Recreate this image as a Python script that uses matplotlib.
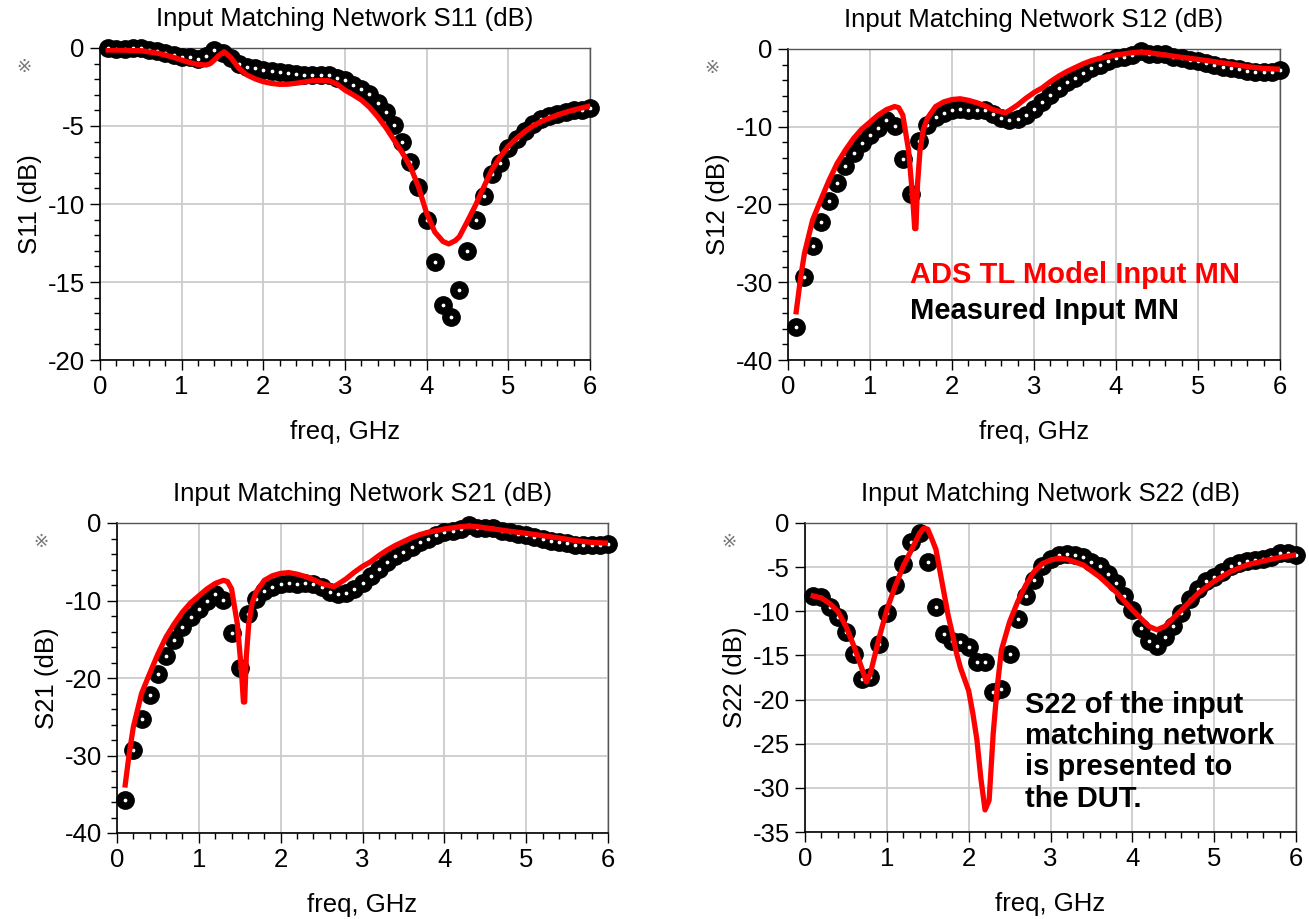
import numpy as np
import matplotlib.pyplot as plt
from matplotlib.ticker import MultipleLocator

plt.rcParams['font.family'] = ['Liberation Sans', 'DejaVu Sans']
plt.rcParams['axes.unicode_minus'] = False

# measured points, 0.1 .. 6.0 GHz in 0.1 GHz steps
freq_meas = [round(0.1 * i, 1) for i in range(1, 61)]

s11_meas = [0.0, -0.09, -0.05, -0.03, -0.03, -0.13, -0.2, -0.34, -0.45, -0.55,
            -0.6, -0.68, -0.52, -0.13, -0.32, -0.66, -1.0, -1.2, -1.3, -1.41,
            -1.5, -1.52, -1.6, -1.65, -1.72, -1.73, -1.73, -1.73, -1.9, -2.05,
            -2.37, -2.63, -2.95, -3.55, -4.08, -4.94, -6.05, -7.29, -8.89, -11.03,
            -13.7, -16.5, -17.26, -15.5, -13.0, -11.0, -9.49, -8.1, -7.35, -6.43,
            -5.85, -5.3, -4.87, -4.57, -4.36, -4.23, -4.08, -3.97, -3.97, -3.82]

s12_meas = [-35.75, -29.3, -25.3, -22.2, -19.5, -17.2, -15.1, -13.4, -12.1, -11.1,
            -10.1, -9.1, -9.9, -14.2, -18.7, -11.8, -9.8, -8.8, -8.2, -7.85,
            -7.77, -7.9, -7.8, -7.9, -8.3, -8.9, -9.1, -9.0, -8.5, -7.7,
            -6.8, -5.9, -5.0, -4.3, -3.7, -3.1, -2.5, -2.0, -1.5, -1.2,
            -1.0, -0.77, -0.3, -0.64, -0.64, -0.7, -1.0, -1.2, -1.4, -1.6,
            -1.85, -2.06, -2.27, -2.5, -2.6, -2.8, -2.9, -2.9, -2.9, -2.75]

# S21 reads the same as S12 (passive, reciprocal network)
s21_meas = list(s12_meas)

s22_meas = [-8.26, -8.4, -9.5, -10.7, -12.4, -14.8, -17.7, -17.4, -13.7, -10.2,
            -7.0, -4.6, -2.2, -1.1, -4.4, -9.5, -12.6, -13.4, -13.5, -14.0,
            -15.7, -15.7, -19.1, -18.8, -14.8, -10.9, -8.3, -6.5, -4.9, -4.1,
            -3.6, -3.5, -3.6, -3.9, -4.4, -4.9, -5.8, -6.8, -8.3, -9.85,
            -11.9, -13.4, -13.9, -12.9, -11.7, -10.15, -8.6, -7.5, -6.6, -6.1,
            -5.5, -4.9, -4.5, -4.3, -4.2, -4.1, -3.8, -3.4, -3.4, -3.6]

# ADS model curves
s11_model_f = [0.1, 0.3, 0.5, 0.7, 0.8, 0.9, 1.0, 1.1, 1.2, 1.3, 1.35, 1.4, 1.45, 1.52,
               1.6, 1.7, 1.8, 1.9, 2.0, 2.1, 2.2, 2.3, 2.4, 2.5, 2.6, 2.7, 2.8, 2.9,
               3.0, 3.1, 3.2, 3.3, 3.4, 3.5, 3.6, 3.7, 3.8, 3.9, 4.0, 4.1, 4.2, 4.27,
               4.35, 4.4, 4.5, 4.6, 4.7, 4.8, 4.9, 5.0, 5.1, 5.2, 5.3, 5.4, 5.5, 5.6,
               5.7, 5.8, 5.9, 6.0]
s11_model = [-0.13, -0.14, -0.17, -0.33, -0.45, -0.6, -0.77, -0.93, -1.06, -1.09, -1.0,
             -0.77, -0.5, -0.24, -0.6, -1.3, -1.73, -1.98, -2.16, -2.27, -2.33, -2.32,
             -2.26, -2.18, -2.1, -2.08, -2.1, -2.3, -2.7, -3.0, -3.33, -3.8, -4.4, -5.1,
             -5.9, -6.7, -7.6, -8.9, -10.6, -11.8, -12.4, -12.56, -12.35, -12.1, -11.1,
             -10.06, -8.9, -7.8, -6.97, -6.3, -5.8, -5.36, -5.0, -4.72, -4.5, -4.3,
             -4.12, -3.97, -3.84, -3.72]

s12_model_f = [0.1, 0.15, 0.2, 0.3, 0.4, 0.5, 0.6, 0.7, 0.8, 0.9, 1.0, 1.1, 1.2, 1.3,
               1.35, 1.4, 1.47, 1.52, 1.545, 1.56, 1.58, 1.61, 1.65, 1.7, 1.8, 1.9,
               2.0, 2.1, 2.2, 2.3, 2.4, 2.5, 2.6, 2.65, 2.7, 2.8, 2.9, 3.0, 3.1, 3.2,
               3.3, 3.4, 3.5, 3.6, 3.7, 3.8, 4.0, 4.2, 4.3, 4.4, 4.6, 4.8, 5.0, 5.2,
               5.4, 5.6, 5.8, 6.0]
s12_model = [-33.8, -29.7, -26.3, -22.0, -19.4, -16.9, -14.7, -13.0, -11.5, -10.3, -9.4,
             -8.5, -7.8, -7.4, -7.55, -8.5, -13.0, -19.0, -23.1, -23.1, -17.3, -13.0,
             -10.4, -8.9, -7.4, -6.8, -6.5, -6.4, -6.6, -6.9, -7.3, -7.8, -8.1, -8.2,
             -7.9, -7.2, -6.35, -5.6, -5.0, -4.2, -3.5, -2.9, -2.4, -1.9, -1.5, -1.2,
             -0.77, -0.47, -0.39, -0.47, -0.77, -1.07, -1.33, -1.63, -1.93, -2.27,
             -2.5, -2.6]

s21_model_f = list(s12_model_f)
s21_model = list(s12_model)

s22_model_f = [0.1, 0.2, 0.3, 0.4, 0.5, 0.6, 0.7, 0.75, 0.8, 0.9, 1.0, 1.1, 1.2, 1.3,
               1.4, 1.45, 1.5, 1.55, 1.6, 1.65, 1.7, 1.75, 1.8, 1.85, 1.9, 2.0, 2.05,
               2.1, 2.15, 2.2, 2.25, 2.3, 2.35, 2.4, 2.5, 2.6, 2.7, 2.8, 2.9, 3.0, 3.1,
               3.2, 3.4, 3.6, 3.8, 4.0, 4.2, 4.3, 4.4, 4.6, 4.8, 5.0, 5.2, 5.4, 5.6,
               5.8, 6.0]
s22_model = [-8.26, -8.5, -9.1, -10.0, -11.7, -14.0, -16.6, -18.0, -17.0, -13.2, -9.85,
             -7.2, -4.9, -3.06, -1.17, -0.6, -0.7, -1.8, -3.0, -5.5, -8.0, -10.5, -12.5,
             -14.7, -16.4, -19.0, -21.5, -24.5, -29.0, -32.5, -31.4, -23.8, -18.5, -14.4,
             -11.2, -8.9, -7.0, -5.5, -4.6, -4.2, -4.0, -4.1, -4.75, -6.1, -7.8, -9.85,
             -11.7, -12.1, -11.7, -9.85, -8.0, -6.6, -5.5, -4.75, -4.3, -3.9, -3.6]

fig = plt.figure(figsize=(13.09, 9.19), dpi=100)

panels = [
    # rect, name, meas, model f, model, ylim, major, minor
    ([100/1309, 559/919, 490/1309, 312/919], 'S11', s11_meas, s11_model_f, s11_model, (-20, 0), 5, 1),
    ([788/1309, 559/919, 492/1309, 311/919], 'S12', s12_meas, s12_model_f, s12_model, (-40, 0), 10, 2),
    ([117/1309, 86/919, 491/1309, 310/919], 'S21', s21_meas, s21_model_f, s21_model, (-40, 0), 10, 2),
    ([805/1309, 87/919, 491/1309, 309/919], 'S22', s22_meas, s22_model_f, s22_model, (-35, 0), 5, None),
]

axes = []
for rect, name, meas, mf, mv, ylim, major, minor in panels:
    ax = fig.add_axes(rect)
    ax.plot(freq_meas, meas, 'o', color='black', markersize=12.5, clip_on=False, zorder=3)
    ax.plot(freq_meas, meas, 'o', color='white', markersize=1.7, clip_on=False, zorder=4)
    ax.plot(mf, mv, color='#ff0000', linewidth=3.8, zorder=5, solid_joinstyle='round')
    ax.set_xlim(0, 6)
    ax.set_ylim(*ylim)
    ax.xaxis.set_major_locator(MultipleLocator(1))
    ax.xaxis.set_minor_locator(MultipleLocator(0.2))
    ax.yaxis.set_major_locator(MultipleLocator(major))
    if minor:
        ax.yaxis.set_minor_locator(MultipleLocator(minor))
    ax.grid(True, which='major', color='#cccccc', linewidth=1.3)
    ax.set_axisbelow(True)
    ax.tick_params(which='major', direction='out', length=7, width=1, labelsize=18.5, pad=4)
    ax.tick_params(which='minor', direction='out', length=4.5, width=1)
    for s in ['left', 'bottom']:
        ax.spines[s].set_color('black')
        ax.spines[s].set_linewidth(1.2)
    for s in ['top', 'right']:
        ax.spines[s].set_color('#555555')
        ax.spines[s].set_linewidth(1.0)
    ax.set_title('Input Matching Network %s (dB)' % name, fontsize=18.5, pad=16)
    ax.set_xlabel('freq, GHz', fontsize=18.5, labelpad=15)
    ax.set_ylabel('%s (dB)' % name, fontsize=18.5, labelpad=4)
    ax.text(-0.155, 0.94, '\u203b', transform=ax.transAxes, fontsize=13,
            color='#777777', ha='center', va='center', family=['DejaVu Sans'])
    axes.append(ax)

axes[1].text(1.49, -29.1, 'ADS TL Model Input MN', color='#ff0000', fontsize=21,
             fontweight='bold', ha='left', va='center')
axes[1].text(1.49, -33.7, 'Measured Input MN', color='black', fontsize=21,
             fontweight='bold', ha='left', va='center')
axes[3].text(2.69, -25.9, 'S22 of the input\nmatching network\nis presented to\nthe DUT.',
             color='black', fontsize=21, fontweight='bold', ha='left', va='center',
             linespacing=1.15)

fig.savefig('out.png', dpi=100)
